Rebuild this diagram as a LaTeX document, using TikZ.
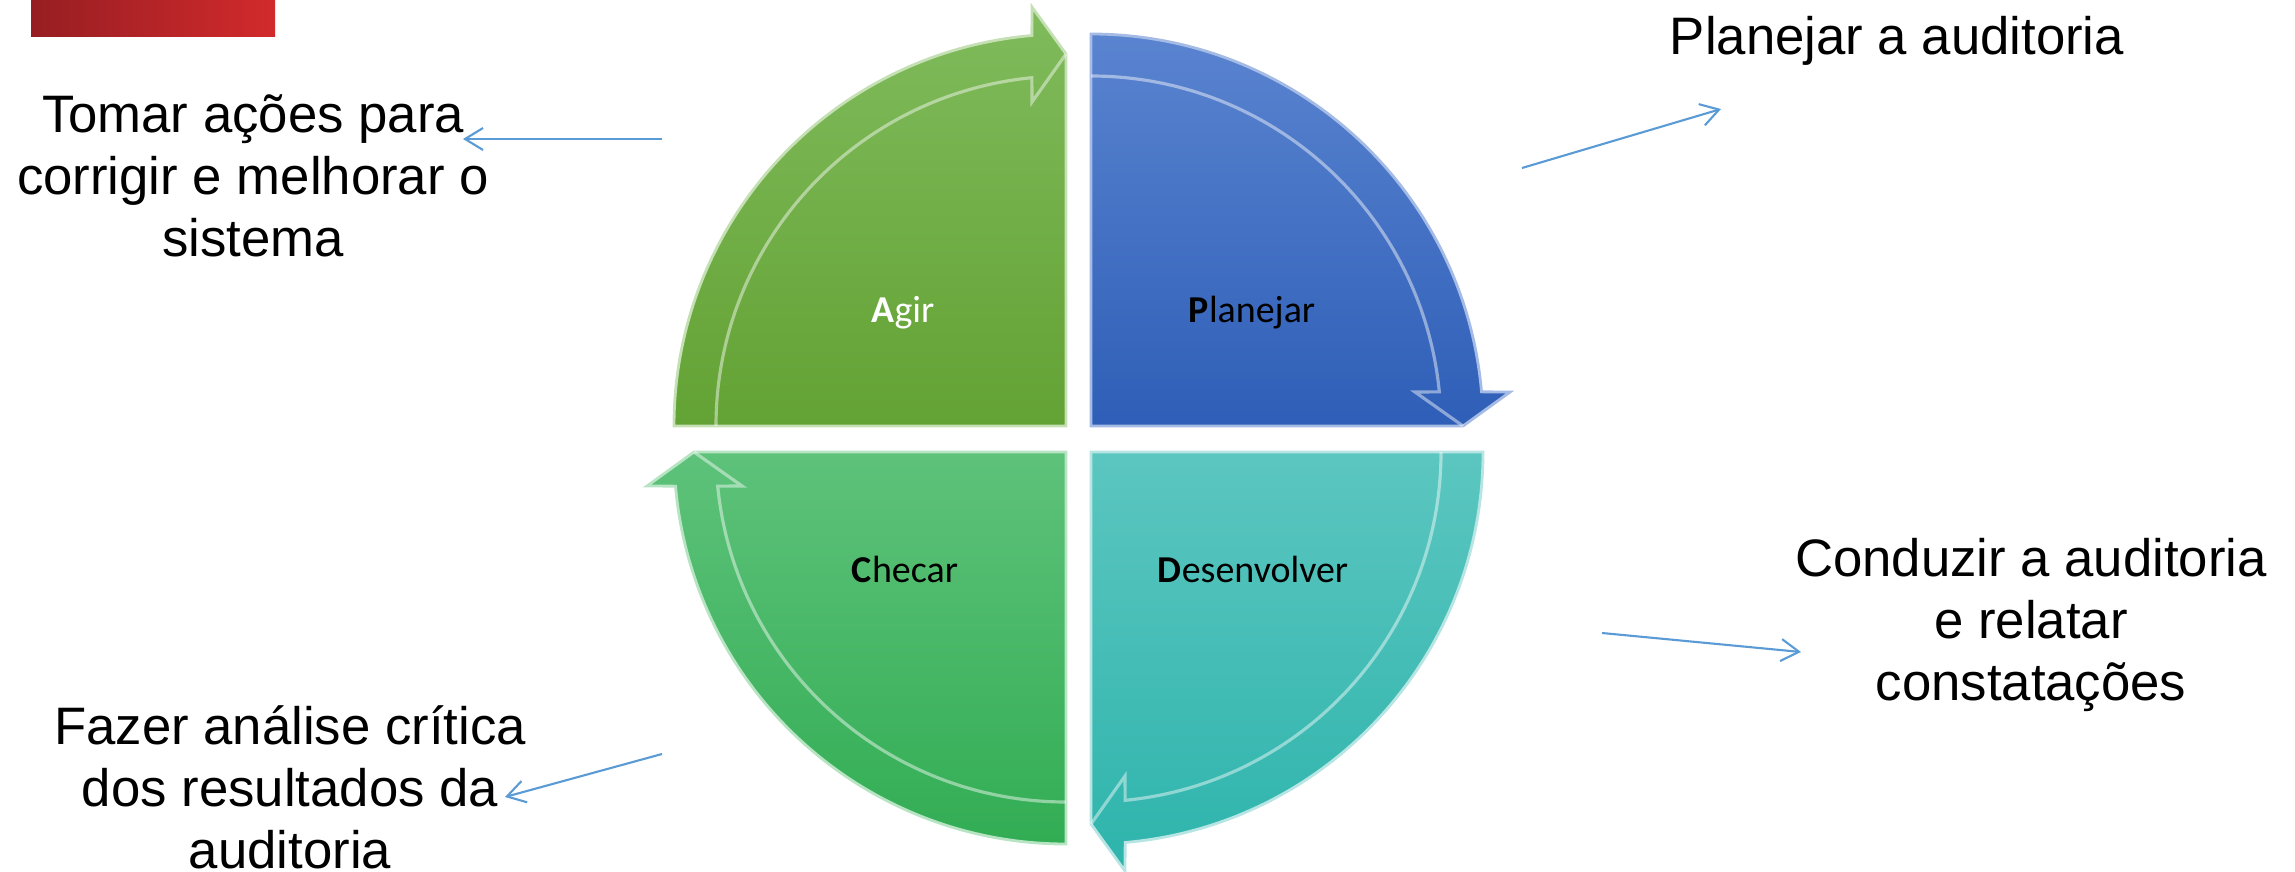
\documentclass[tikz,border=0pt]{standalone}
\usepackage{fontspec}
\setmainfont{Liberation Sans}
\newfontfamily\calibri{Carlito}
\usetikzlibrary{arrows.meta}

\definecolor{agirtop}{RGB}{128,187,92}
\definecolor{agirbot}{RGB}{99,162,52}
\definecolor{plantop}{RGB}{90,132,208}
\definecolor{planbot}{RGB}{46,94,183}
\definecolor{checatop}{RGB}{94,194,122}
\definecolor{checabot}{RGB}{50,173,84}
\definecolor{desentop}{RGB}{92,198,192}
\definecolor{desenbot}{RGB}{45,180,172}
\definecolor{setaazul}{RGB}{91,155,213}
\definecolor{vermelhoA}{RGB}{150,30,34}
\definecolor{vermelhoB}{RGB}{210,42,44}

\begin{document}
\begin{tikzpicture}[
    seta/.style={-{Straight Barb[length=1.8mm,width=2.2mm]}, setaazul, line width=0.6pt},
    rotulo/.style={font=\fontsize{15}{17.6}\selectfont, align=center, anchor=base},
    quadtxt/.style={font=\calibri\fontsize{10.8}{13}\selectfont, anchor=base},
    brilho/.style={white, opacity=0.45, line width=0.9pt},
    borda/.style={line width=0.8pt}
]
    \useasboundingbox (0,0) rectangle (22.95,8.71);

    % faixa vermelha no canto
    \shade[left color=vermelhoA, right color=vermelhoB] (0.31,8.34) rectangle (2.75,8.71);

    % Agir
    \begin{scope}[shift={(10.66,4.45)}]
        \shadedraw[top color=agirtop, bottom color=agirbot, draw=agirtop!45!white, borda]
            (0,0) -- (-3.92,0) arc[start angle=180, end angle=95, radius=3.92]
            -- (-0.34,4.19) -- (0,3.72) -- cycle;
        \draw[brilho] (-3.5,0) arc[start angle=180, end angle=95.6, radius=3.5]
            -- (-0.34,3.24) -- (0,3.72);
    \end{scope}

    % Planejar
    \begin{scope}[shift={(10.91,4.45)}]
        \shadedraw[top color=plantop, bottom color=planbot, draw=plantop!55!white, borda]
            (0,0) -- (0,3.92) arc[start angle=90, end angle=5, radius=3.92]
            -- (4.19,0.34) -- (3.72,0) -- cycle;
        \draw[brilho] (0,3.5) arc[start angle=90, end angle=5.6, radius=3.5]
            -- (3.24,0.34) -- (3.72,0);
    \end{scope}

    % Checar
    \begin{scope}[shift={(10.66,4.19)}]
        \shadedraw[top color=checatop, bottom color=checabot, draw=checatop!45!white, borda]
            (0,0) -- (0,-3.92) arc[start angle=270, end angle=185, radius=3.92]
            -- (-4.19,-0.34) -- (-3.72,0) -- cycle;
        \draw[brilho] (0,-3.5) arc[start angle=270, end angle=185.6, radius=3.5]
            -- (-3.24,-0.34) -- (-3.72,0);
    \end{scope}

    % Desenvolver
    \begin{scope}[shift={(10.91,4.19)}]
        \shadedraw[top color=desentop, bottom color=desenbot, draw=desentop!45!white, borda]
            (0,0) -- (3.92,0) arc[start angle=0, end angle=-85, radius=3.92]
            -- (0.34,-4.19) -- (0,-3.72) -- cycle;
        \draw[brilho] (3.5,0) arc[start angle=0, end angle=-84.4, radius=3.5]
            -- (0.34,-3.24) -- (0,-3.72);
    \end{scope}

    \node[quadtxt, text=white] (agir)  at (9.03,5.49)  {\textbf{A}gir};
    \node[quadtxt]             (plan)  at (12.52,5.49) {\textbf{P}lanejar};
    \node[quadtxt]             (chec)  at (9.05,2.89)  {\textbf{C}hecar};
    \node[quadtxt]             (desen) at (12.53,2.89) {\textbf{D}esenvolver};

    % rotulos externos (ancora na linha de base da ultima linha)
    \node[rotulo] (tplan)  at (18.97,8.16) {Planejar a auditoria};
    \node[rotulo] (tagir)  at (2.53,6.15)  {Tomar ações para\\corrigir e melhorar o\\sistema};
    \node[rotulo] (tchec)  at (2.90,0.03)  {Fazer análise crítica\\dos resultados da\\auditoria};
    \node[rotulo] (tdesen) at (20.31,1.71) {Conduzir a auditoria\\e relatar\\constatações};

    \coordinate (a1) at (6.62,7.32);
    \coordinate (a2) at (4.63,7.32);
    \coordinate (p1) at (15.22,7.03);
    \coordinate (p2) at (17.21,7.62);
    \coordinate (c1) at (6.62,1.17);
    \coordinate (c2) at (5.05,0.74);
    \coordinate (d1) at (16.02,2.38);
    \coordinate (d2) at (18.01,2.19);
    \draw[seta] (a1) -- (a2);
    \draw[seta] (p1) -- (p2);
    \draw[seta] (c1) -- (c2);
    \draw[seta] (d1) -- (d2);
\end{tikzpicture}
\end{document}
